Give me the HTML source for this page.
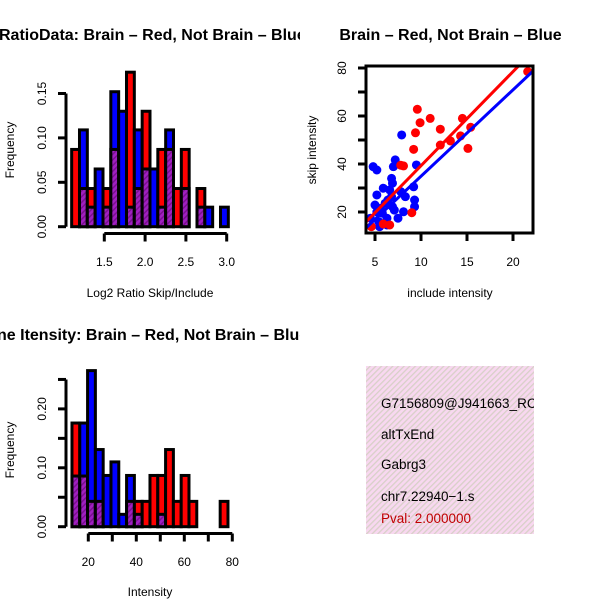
<!DOCTYPE html>
<html><head><meta charset="utf-8"><style>
html,body{margin:0;padding:0;background:#fff}
svg text{font-family:"Liberation Sans",sans-serif}
</style></head><body>
<svg id="c" width="600" height="600" viewBox="0 0 600 600" xmlns="http://www.w3.org/2000/svg">
<defs>
<pattern id="pp" width="4" height="4" patternUnits="userSpaceOnUse" patternTransform="rotate(45)">
<rect width="4" height="4" fill="#a020c0"/><rect width="1.5" height="4" fill="#7a1090"/></pattern>
<pattern id="pk" width="4" height="4" patternUnits="userSpaceOnUse" patternTransform="rotate(45)">
<rect width="4" height="4" fill="#f8d8f0"/><rect width="1.3" height="4" fill="#d8d0c8"/></pattern>
<clipPath id="cl1"><rect x="0" y="0" width="300" height="300"/></clipPath>
<clipPath id="cl2"><rect x="0" y="300" width="300" height="300"/></clipPath>
<clipPath id="cl4"><rect x="366" y="366" width="168" height="168"/></clipPath>
</defs>
<g id="h1"></g>
<g id="h2"></g>
<g id="sc"></g>
<g>
<rect x="366" y="366" width="168" height="168" fill="url(#pk)"/>
<g clip-path="url(#cl4)" font-size="13.5">
<text x="381" y="408">G7156809@J941663_RC</text>
<text x="381" y="439">altTxEnd</text>
<text x="381" y="469">Gabrg3</text>
<text x="381" y="501">chr7.22940−1.s</text>
<text x="381" y="523" fill="#c00000">Pval: 2.000000</text>
</g></g>
</svg>
<script>
// Histogram 1: log2 ratio
const h1Start = 1.1, h1Width = 0.096;
const h1Red  = [0.087,null,0.043,null,0.043,null,null,0.174,null,0.130,null,0.087,null,0.043,0.087,null,0.043,null,null,null];
const h1Blue = [null,0.109,null,0.065,null,0.152,0.130,null,0.109,null,0.065,null,0.109,null,null,null,null,0.022,null,0.022];
const h1Overlap = [0,0.043,0.022,0,0.022,0.087,0,0.022,0.043,0.065,0,0.022,0.087,0,0.043,0,0.022,0,0,0];
const h1XTicks = [1.5,2.0,2.5,3.0];
const h1YTicks = [0,0.05,0.10,0.15];
// Histogram 2: intensity
const h2Start = 13.2, h2Width = 3.25;
const h2Red  = [0.176,null,null,null,null,null,null,null,0.043,0.043,0.087,0.087,0.131,0.043,0.087,0.043,null,null,null,0.043];
const h2Blue = [null,0.176,0.265,0.131,0.087,0.110,0.021,0.087,null,null,null,null,null,null,null,null,null,null,null,null];
const h2Overlap = [0.086,0.086,0.043,0.043,0,0,0,0.043,0.021,0,0,0.021,0,0,0,0,0,0,0,0];
const h2XTicks = [20,30,40,50,60,70,80];
const h2XLabels = ["20","","40","","60","","80"];
const h2YTicks = [0,0.05,0.10,0.15,0.20,0.25];
const h2YLabels = ["0.00","","0.10","","0.20",""];
// Scatter
const redX = [9.6,11.0,9.9,9.4,12.1,14.5,15.4,14.3,13.2,12.1,9.2,15.1,8.1,7.8,21.6,9.0,4.6,6.6,5.9];
const redY = [62.8,59.0,57.2,53.0,54.5,59.0,55.3,51.7,49.6,47.9,46.1,46.5,39.2,39.5,78.5,19.7,13.9,14.6,15.0];
const blueX = [7.9,4.8,5.2,7.2,7.0,9.5,6.8,6.9,9.2,5.9,5.2,8.3,9.3,9.3,8.1,5.0,6.4,6.9,5.8,6.3,5.5,4.5,7.5,6.8,6.6,7.8,5.6,7.1,5.4,6.3,5.2,6.1];
const blueY = [52.1,38.9,37.5,41.7,38.9,39.6,34.0,32.0,30.5,29.9,27.1,26.4,25.0,22.2,20.1,22.9,25.0,22.2,19.5,17.4,13.9,17.4,17.4,26.4,29.2,28.5,21.5,20.8,16.0,14.6,20.0,23.6];
const redFit = [0.1,3.92], blueFit = [-1.1,3.6];
const scXTicks = [5,10,15,20], scYTicks = [10,20,30,40,50,60,70,80];
const scYLabels = ["","20","","40","","60","","80"];

const NS="http://www.w3.org/2000/svg";
function mk(p,t,a){const e=document.createElementNS(NS,t);for(const k in a)e.setAttribute(k,a[k]);p.appendChild(e);return e;}

function hist(g,clip,title,titleX,titleY,xs,ys,start,w,red,blue,ov,xt,xl,yt,yl,xlab,xlabY,ylabY,axY,xlabTickY){
  const cg=mk(g,'g',{'clip-path':clip});
  const t=mk(cg,'text',{x:titleX,y:titleY,'font-size':16,'font-weight':'bold'});t.textContent=title;
  
  
  for(let i=0;i<red.length;i++){
    const x0=xs(start+i*w), x1=xs(start+(i+1)*w);
    const v = red[i]!=null?red[i]:blue[i];
    if(v==null) continue;
    const r=mk(g,'rect',{x:x0,y:ys(v),width:x1-x0,height:ys(0)-ys(v),fill:red[i]!=null?'#ff0000':'#0000ff',stroke:'#000','stroke-width':3});
    
    
    if(ov[i]>0){
      const p=mk(g,'rect',{x:x0,y:ys(ov[i]),width:x1-x0,height:ys(0)-ys(ov[i]),fill:'url(#pp)',stroke:'#000','stroke-width':3});
      
      
    }
  }
  const ax=mk(g,'g',{stroke:'#000','stroke-width':3});
  
  
  mk(ax,'line',{x1:66,x2:66,y1:ys(yt[0]),y2:ys(yt[yt.length-1])});
  yt.forEach((v,i)=>{mk(ax,'line',{x1:58,x2:66,y1:ys(v),y2:ys(v)});
    if(yl[i]){const tx=mk(g,'text',{x:46,y:ys(v),'font-size':12,'text-anchor':'middle',transform:`rotate(-90 46 ${ys(v)})`});tx.textContent=yl[i];
    
    }});
  const bx=mk(g,'g',{stroke:'#000','stroke-width':3});
  
  
  mk(bx,'line',{x1:xs(xt[0]),x2:xs(xt[xt.length-1]),y1:axY,y2:axY});
  xt.forEach((v,i)=>{mk(bx,'line',{x1:xs(v),x2:xs(v),y1:axY,y2:axY+8});
    if(xl[i]){const tx=mk(g,'text',{x:xs(v),y:xlabTickY,'font-size':12,'text-anchor':'middle'});tx.textContent=xl[i];
    
    }});
  const xa=mk(g,'text',{x:150,y:xlabY,'font-size':12,'text-anchor':'middle'});xa.textContent=xlab;
  
  
  const ya=mk(g,'text',{x:14,y:ylabY,'font-size':12,'text-anchor':'middle',transform:`rotate(-90 14 ${ylabY})`});ya.textContent='Frequency';
  
  
}
const x1s=v=>104.3+(v-1.5)*81.6, y1s=v=>226.7-v*888;
hist(document.getElementById('h1'),'url(#cl1)','RatioData: Brain – Red, Not Brain – Blue',-1,40,x1s,y1s,h1Start,h1Width,h1Red,h1Blue,h1Overlap,
  h1XTicks,["1.5","2.0","2.5","3.0"],h1YTicks,["0.00","0.05","0.10","0.15"],'Log2 Ratio Skip/Include',297,150,233.5,266);
const x2s=v=>88.3+(v-20)*2.4, y2s=v=>526.7-v*589;
hist(document.getElementById('h2'),'url(#cl2)','ne Itensity: Brain – Red, Not Brain – Blue',-3,340,x2s,y2s,h2Start,h2Width,h2Red,h2Blue,h2Overlap,
  h2XTicks,h2XLabels,h2YTicks,h2YLabels,'Intensity',596,450,533.5,566);

// scatter
(function(){
  const g=document.getElementById('sc');
  const xs=v=>375+(v-5)*9.2, ys=v=>212-(v-20)*2.4;
  const L=366,R=533,T=66,B=233;
  const t=mk(g,'text',{x:450.5,y:40,'font-size':16,'font-weight':'bold','text-anchor':'middle'});t.textContent='Brain – Red, Not Brain – Blue';
  
  
  const pg=mk(g,'g',{'clip-path':'url(#clsc)'});
  const cp=mk(document.querySelector('defs'),'clipPath',{id:'clsc'});mk(cp,'rect',{x:L,y:T,width:R-L,height:B-T});
  blueX.forEach((x,i)=>{const c=mk(pg,'circle',{cx:xs(x),cy:ys(blueY[i]),r:4.5,fill:'#0000ff'});
    
    });
  redX.forEach((x,i)=>{const c=mk(pg,'circle',{cx:xs(x),cy:ys(redY[i]),r:4.5,fill:'#ff0000'});
    
    });
  const fx=[3.5,23];
  const rl=mk(pg,'line',{x1:xs(fx[0]),y1:ys(redFit[0]+redFit[1]*fx[0]),x2:xs(fx[1]),y2:ys(redFit[0]+redFit[1]*fx[1]),stroke:'#ff0000','stroke-width':3});
  
  
  const bl=mk(pg,'line',{x1:xs(fx[0]),y1:ys(blueFit[0]+blueFit[1]*fx[0]),x2:xs(fx[1]),y2:ys(blueFit[0]+blueFit[1]*fx[1]),stroke:'#0000ff','stroke-width':3});
  
  
  const box=mk(g,'rect',{x:L,y:T,width:R-L,height:B-T,fill:'none',stroke:'#000','stroke-width':3});
  
  
  scXTicks.forEach(v=>{mk(g,'line',{x1:xs(v),x2:xs(v),y1:B,y2:B+8,stroke:'#000','stroke-width':3});
    const tx=mk(g,'text',{x:xs(v),y:266,'font-size':12,'text-anchor':'middle'});tx.textContent=v;
    
    });
  scYTicks.forEach((v,i)=>{if(ys(v)>B+1)return;mk(g,'line',{x1:358,x2:L,y1:ys(v),y2:ys(v),stroke:'#000','stroke-width':3});
    if(scYLabels[i]){const tx=mk(g,'text',{x:346,y:ys(v),'font-size':12,'text-anchor':'middle',transform:`rotate(-90 346 ${ys(v)})`});tx.textContent=scYLabels[i];
    
    }});
  const xa=mk(g,'text',{x:450,y:297,'font-size':12,'text-anchor':'middle'});xa.textContent='include intensity';
  
  
  const ya=mk(g,'text',{x:316,y:150,'font-size':12,'text-anchor':'middle',transform:'rotate(-90 316 150)'});ya.textContent='skip intensity';
  
  
})();
</script>
</body></html>
